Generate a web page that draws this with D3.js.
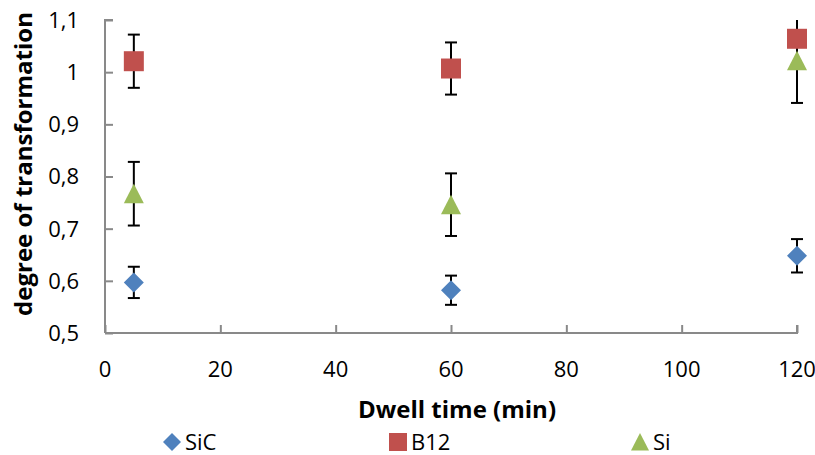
<!DOCTYPE html>
<html><head><meta charset="utf-8">
<script src="https://cdn.jsdelivr.net/npm/d3@7"></script>
<style>body{margin:0;background:#fff}svg{display:block}text{font-family:"Open Sans",sans-serif}</style>
</head><body>
<script>
const times = [5, 60, 120];
const sicValues = [0.597, 0.582, 0.648];
const sicErrors = [0.030, 0.028, 0.032];
const b12Values = [1.021, 1.007, 1.064];
const b12Errors = [0.051, 0.050, 0.050];
const siValues = [0.767, 0.746, 1.022];
const siErrors = [0.061, 0.060, 0.081];
const xTicks = [0, 20, 40, 60, 80, 100, 120];
const yTicks = [0.5, 0.6, 0.7, 0.8, 0.9, 1.0, 1.1];
const seriesNames = ["SiC", "B12", "Si"];
const seriesColors = ["#4f81bd", "#c0504d", "#9bbb59"];

const W = 815, H = 455;
const svg = d3.select("body").append("svg").attr("width", W).attr("height", H);
const x = d3.scaleLinear().domain([0, 120]).range([105, 797]);
const y = d3.scaleLinear().domain([0.5, 1.1]).range([333, 20]);
const axisColor = "#898989";

svg.append("clipPath").attr("id","plot").append("rect")
  .attr("x", 95).attr("y", 20).attr("width", 720).attr("height", 313);

const fmt = d => d === 1 ? "1" : d.toFixed(1).replace(".", ",");

const markerPath = {
  diamond: "M0,-10L10,0L0,10L-10,0Z",
  square: "M-10,-10H10V10H-10Z",
  triangle: "M0,-10L10,9.5H-10Z"
};

// Y axis
const gy = svg.append("g").attr("transform", "translate(105,0)")
  .call(d3.axisRight(y).tickValues(yTicks).tickSize(8).tickFormat(""));
gy.selectAll("path,line").attr("stroke", axisColor).attr("stroke-width", 2);
gy.select(".domain").attr("d", `M8,${y(1.1)}H0V${y(0.5)}`);
svg.append("g").selectAll("text").data(yTicks).join("text")
  .attr("x", 79).attr("y", d => y(d)).attr("dy", "0.36em")
  .attr("text-anchor", "end").attr("font-size", 22).attr("fill", "#000")
  .text(fmt);

// X axis
const gx = svg.append("g").attr("transform", "translate(0,333)")
  .call(d3.axisTop(x).tickValues(xTicks).tickSize(8).tickFormat(""));
gx.selectAll("path,line").attr("stroke", axisColor).attr("stroke-width", 2);
gx.select(".domain").attr("d", `M${x(0)},0H${x(120)}V-8`);
svg.append("g").selectAll("text").data(xTicks).join("text")
  .attr("x", d => x(d)).attr("y", 377)
  .attr("text-anchor", "middle").attr("font-size", 22).attr("fill", "#000")
  .text(d => d);

// titles
svg.append("text").attr("x", 457).attr("y", 418)
  .attr("text-anchor", "middle").attr("font-size", 24).attr("font-weight", "bold")
  .text("Dwell time (min)");
svg.append("text").attr("transform", "translate(32,164) rotate(-90)")
  .attr("text-anchor", "middle").attr("font-size", 24).attr("font-weight", "bold")
  .text("degree of transformation");

const series = [
  {name: seriesNames[0], vals: sicValues, errs: sicErrors, color: seriesColors[0], shape: "diamond"},
  {name: seriesNames[1], vals: b12Values, errs: b12Errors, color: seriesColors[1], shape: "square"},
  {name: seriesNames[2], vals: siValues, errs: siErrors, color: seriesColors[2], shape: "triangle"}
];

const plot = svg.append("g").attr("clip-path", "url(#plot)");
series.forEach(s => {
  const g = plot.append("g");
  times.forEach((t, i) => {
    const cx = x(t), v = s.vals[i], e = s.errs[i];
    g.append("line").attr("x1", cx).attr("x2", cx).attr("y1", y(v + e)).attr("y2", y(v - e))
      .attr("stroke", "#000").attr("stroke-width", 2);
    [v + e, v - e].forEach(ev => {
      g.append("line").attr("x1", cx - 6).attr("x2", cx + 6).attr("y1", y(ev)).attr("y2", y(ev))
        .attr("stroke", "#000").attr("stroke-width", 2);
    });
  });
});
series.forEach(s => {
  plot.append("g").selectAll("path").data(times).join("path")
    .attr("transform", (t, i) => `translate(${x(t)},${y(s.vals[i])})`)
    .attr("d", markerPath[s.shape])
    .attr("fill", s.color);
});

// legend
const legendX = [172, 398, 640];
series.forEach((s, i) => {
  svg.append("path").attr("transform", `translate(${legendX[i]},442) scale(0.9)`)
    .attr("d", markerPath[s.shape]).attr("fill", s.color);
  svg.append("text").attr("x", legendX[i] + 13).attr("y", 450)
    .attr("font-size", 22).text(s.name);
});
</script>
</body></html>
